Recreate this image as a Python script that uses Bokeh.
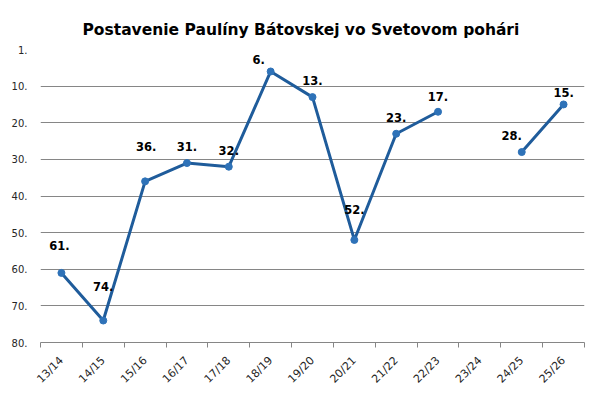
import math
from bokeh.plotting import figure
from bokeh.models import ColumnDataSource, FixedTicker, Range1d
from bokeh.core.properties import value
from bokeh.embed import file_html
from bokeh.resources import INLINE

# ---- data ----
seasons = ["13/14", "14/15", "15/16", "16/17", "17/18", "18/19", "19/20",
           "20/21", "21/22", "22/23", "23/24", "24/25", "25/26"]
ranks = [61, 74, 36, 31, 32, 6, 13, 52, 23, 17, float("nan"), 28, 15]
ytick_values = [0, 10, 20, 30, 40, 50, 60, 70, 80]
ytick_labels = ["1.", "10.", "20.", "30.", "40.", "50.", "60.", "70.", "80."]
title_text = "Postavenie Paulíny Bátovskej vo Svetovom pohári"

# label offsets (pixels) for the data labels
label_dx = [-2, 0, 1, 0, 0, -12, 0, 0, 0, 0, 0, -10, 0]
label_dy = [-27, -34, -35, -17, -16, -12, -17, -30, -16, -15, 0, -17, -12]

LINE = "#1F5C9B"
MARK = "#2E72B8"
GRID = "#868686"
FONT = "DejaVu Sans"

n = len(seasons)
xpos = [i + 0.5 for i in range(n)]          # category centres

p = figure(width=600, height=396, x_range=Range1d(0, n),
           y_range=Range1d(80, 0), output_backend="svg",
           toolbar_location=None, min_border_left=40, min_border_right=16,
           min_border_top=49, min_border_bottom=54)
p.outline_line_color = None
p.background_fill_color = "white"
p.border_fill_color = "white"

p.title.text = title_text
p.title.align = "left"
p.title.offset = 42
p.title.standoff = 22
p.title.text_font = FONT
p.title.text_font_size = "15.5px"
p.title.text_font_style = "bold"
p.title.text_color = "black"

xa = p.xaxis[0]
xa.ticker = FixedTicker(ticks=xpos, minor_ticks=list(range(n + 1)))
xa.major_label_overrides = {x: s for x, s in zip(xpos, seasons)}
xa.major_label_orientation = math.pi / 4
xa.major_tick_line_color = None
xa.major_tick_in = 0
xa.major_tick_out = 0
xa.minor_tick_in = 0
xa.minor_tick_out = 5
xa.minor_tick_line_color = GRID
xa.axis_line_color = GRID
xa.major_label_standoff = 11
xa.major_label_text_font = FONT
xa.major_label_text_font_size = "11px"
xa.major_label_text_color = "#262626"

ya = p.yaxis[0]
ya.ticker = FixedTicker(ticks=ytick_values)
ya.major_label_overrides = {v: t for v, t in zip(ytick_values, ytick_labels)}
ya.axis_line_color = None
ya.major_tick_line_color = None
ya.minor_tick_line_color = None
ya.major_tick_in = 0
ya.major_tick_out = 0
ya.major_label_standoff = 13
ya.major_label_text_font = FONT
ya.major_label_text_font_size = "10px"
ya.major_label_text_color = "#262626"

p.xgrid.grid_line_color = None
p.ygrid.ticker = FixedTicker(ticks=ytick_values)
p.ygrid.grid_line_color = GRID
p.ygrid.grid_line_width = 1

labels = ["" if r != r else f"{int(r)}." for r in ranks]
src = ColumnDataSource(dict(x=xpos, y=ranks, lab=labels,
                            dx=label_dx, dy=label_dy))

p.line("x", "y", source=src, line_color=LINE, line_width=3)
p.scatter("x", "y", source=src, size=7, fill_color=MARK, line_color=MARK)
p.text("x", "y", text="lab", source=src,
       x_offset="dx", y_offset="dy", text_align="center",
       text_baseline="middle", text_font=value(FONT),
       text_font_size="11.5px", text_font_style="bold", text_color="black")

open("out.html", "w").write(file_html(p, INLINE))
